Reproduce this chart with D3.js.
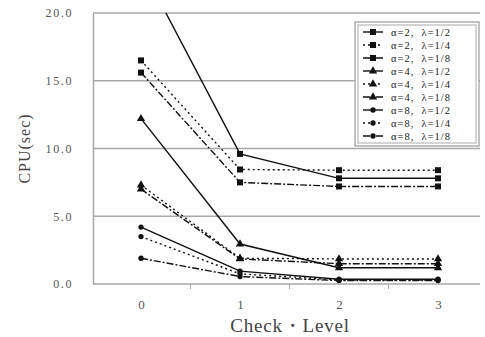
<!DOCTYPE html>
<html>
<head>
<meta charset="utf-8">
<script src="https://cdn.jsdelivr.net/npm/d3@7"></script>
<style>
  html, body { margin: 0; padding: 0; background: #fff; }
  svg { display: block; }
</style>
</head>
<body>
<svg id="chart" width="485" height="337"></svg>
<script>
// Check level on the x axis, CPU seconds on the y axis
const levels = [0, 1, 2, 3];
const yTicks = [0, 5, 10, 15, 20];

const seriesNames = [
  "α=2,  λ=1/2", "α=2,  λ=1/4", "α=2,  λ=1/8",
  "α=4,  λ=1/2", "α=4,  λ=1/4", "α=4,  λ=1/8",
  "α=8,  λ=1/2", "α=8,  λ=1/4", "α=8,  λ=1/8"
];

const a2_half    = [23.5, 9.6, 7.8, 7.8];
const a2_quarter = [16.5, 8.45, 8.4, 8.4];
const a2_eighth  = [15.6, 7.5, 7.2, 7.2];
const a4_half    = [12.2, 2.95, 1.2, 1.2];
const a4_quarter = [7.3, 1.9, 1.85, 1.85];
const a4_eighth  = [7.0, 1.85, 1.5, 1.5];
const a8_half    = [4.2, 0.95, 0.35, 0.35];
const a8_quarter = [3.5, 0.75, 0.3, 0.3];
const a8_eighth  = [1.9, 0.55, 0.25, 0.25];

const seriesValues = [a2_half, a2_quarter, a2_eighth,
                      a4_half, a4_quarter, a4_eighth,
                      a8_half, a8_quarter, a8_eighth];

// style per series: line dash by λ, marker by α
const dashes = ["none", "2,3", "7,2,2,2"];
const markers = [d3.symbolSquare, d3.symbolTriangle, d3.symbolCircle];
const markerSizes = [36, 30, 22];

const svg = d3.select("#chart");
const plot = { left: 93, right: 480, top: 13, bottom: 284 };

const x = d3.scaleLinear().domain([0, 3]).range([141, 438]);
const y = d3.scaleLinear().domain([0, 20]).range([plot.bottom, plot.top]);

const serif = "'Liberation Serif', 'DejaVu Serif', serif";

// horizontal grid lines
svg.append("g").selectAll("line").data(yTicks).join("line")
  .attr("x1", plot.left).attr("x2", plot.right)
  .attr("y1", d => y(d)).attr("y2", d => y(d))
  .attr("stroke", "#a8a8a8").attr("stroke-width", 1.5);

// left axis
const yAxis = d3.axisLeft(y).tickValues(yTicks).tickSize(0).tickPadding(20)
  .tickFormat(d3.format(".1f"));
const gy = svg.append("g").attr("transform", `translate(${plot.left},0)`).call(yAxis);
gy.select(".domain").attr("stroke", "#a8a8a8").attr("stroke-width", 1.5);
gy.selectAll("text").attr("font-family", serif).attr("font-size", 12)
  .attr("letter-spacing", 1.6).attr("fill", "#555");

// bottom axis: category labels with small ticks between categories
const xAxis = d3.axisBottom(x).tickValues(levels).tickSize(0).tickPadding(16)
  .tickFormat(d3.format("d"));
const gx = svg.append("g").attr("transform", `translate(0,${plot.bottom})`).call(xAxis);
gx.select(".domain").remove();
gx.selectAll("text").attr("font-family", serif).attr("font-size", 13).attr("fill", "#555");
gx.append("g").selectAll("line").data([0.5, 1.5, 2.5]).join("line")
  .attr("x1", d => x(d)).attr("x2", d => x(d)).attr("y1", 0).attr("y2", 5)
  .attr("stroke", "#a8a8a8").attr("stroke-width", 1);

// axis titles
svg.append("text")
  .attr("transform", `translate(30,${(plot.top + plot.bottom) / 2}) rotate(-90)`)
  .attr("text-anchor", "middle").attr("font-family", serif).attr("font-size", 16)
  .attr("letter-spacing", 1).attr("fill", "#444").text("CPU(sec)");
svg.append("text")
  .attr("x", 290).attr("y", 332).attr("text-anchor", "middle")
  .attr("font-family", serif).attr("font-size", 19).attr("letter-spacing", 0.8)
  .attr("fill", "#444")
  .text("Check・Level");

// clip lines to the plotting region
svg.append("clipPath").attr("id", "plotClip").append("rect")
  .attr("x", plot.left).attr("y", plot.top)
  .attr("width", plot.right - plot.left).attr("height", plot.bottom - plot.top + 4);

const line = d3.line().x((d, i) => x(levels[i])).y(d => y(d));
const series = svg.append("g").attr("clip-path", "url(#plotClip)");

seriesValues.forEach((vals, s) => {
  const g = series.append("g");
  g.append("path").datum(vals).attr("d", line)
    .attr("fill", "none").attr("stroke", "#111").attr("stroke-width", 1.4)
    .attr("stroke-dasharray", dashes[s % 3]);
  g.selectAll("path.m").data(vals).join("path").attr("class", "m")
    .attr("transform", (d, i) => `translate(${x(levels[i])},${y(d)})`)
    .attr("d", d3.symbol().type(markers[Math.floor(s / 3)]).size(markerSizes[Math.floor(s / 3)]))
    .attr("fill", "#111");
});

// legend
const lg = { x: 355, y: 22, w: 124, h: 124 };
const legend = svg.append("g");
legend.append("rect").attr("x", lg.x).attr("y", lg.y).attr("width", lg.w).attr("height", lg.h)
  .attr("fill", "#fff").attr("stroke", "#999").attr("stroke-width", 1.2);
legend.append("rect").attr("x", lg.x + 3).attr("y", lg.y + 3).attr("width", lg.w - 6).attr("height", lg.h - 6)
  .attr("fill", "none").attr("stroke", "#aaa").attr("stroke-width", 1);

const rowY = d3.scalePoint().domain(d3.range(seriesNames.length))
  .range([lg.y + 10, lg.y + lg.h - 10]);

seriesNames.forEach((name, s) => {
  const yy = rowY(s);
  legend.append("line").attr("x1", lg.x + 8).attr("x2", lg.x + 28)
    .attr("y1", yy).attr("y2", yy).attr("stroke", "#111").attr("stroke-width", 1.4)
    .attr("stroke-dasharray", dashes[s % 3]);
  legend.append("path").attr("transform", `translate(${lg.x + 18},${yy})`)
    .attr("d", d3.symbol().type(markers[Math.floor(s / 3)]).size(markerSizes[Math.floor(s / 3)]))
    .attr("fill", "#111");
  legend.append("text").attr("x", lg.x + 36).attr("y", yy + 3.5)
    .attr("font-family", serif).attr("font-size", 10.5).attr("letter-spacing", 1)
    .attr("fill", "#222")
    .attr("xml:space", "preserve").style("white-space", "pre")
    .text(name);
});
</script>
</body>
</html>
